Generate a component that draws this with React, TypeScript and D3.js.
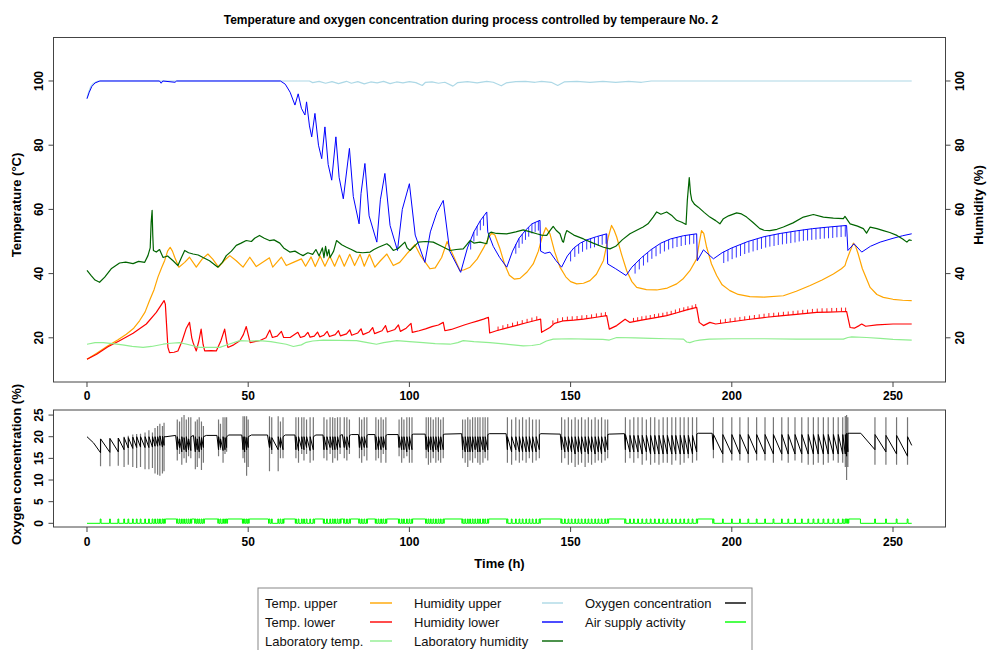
import React from "react";
import * as d3 from "d3";

type P = [number, number];

const TIME_TICKS = [0, 50, 100, 150, 200, 250];
const TEMP_TICKS = [20, 40, 60, 80, 100];
const HUM_TICKS = [20, 40, 60, 80, 100];
const O2_TICKS = [0, 5, 10, 15, 20, 25];

const TITLE = "Temperature and oxygen concentration during process controlled by temperaure No. 2";

// Temp. upper (°C)
const TEMP_UPPER: P[] = [
  [0,13.3],[3,15.2],[6.5,17.5],[9.5,19.3],[12.2,21.1],[14.5,23],[16.3,25.3],[18,28],[19.4,31.6],[20.8,35],[22,38.9],[23.2,42],[24.1,44.1],[25,47],[25.8,48.2],[26.5,47],[27.2,45.1],[28.5,42],[30.3,43.5],[31.8,45.1],[33.9,42],[35.7,44.5],[37.5,46.1],[39,44.5],[40.8,42],[42.5,44],[44.3,45.6],[46.3,44],[48.4,42],[50.5,45.1],[52.5,42.2],[54.5,43.5],[56.6,44.9],[57.6,42],[60.3,45.1],[61.8,42.5],[64,43.5],[66.5,44.6],[67.8,42.3],[69.5,45.2],[70.8,42.2],[72.3,45.5],[73.8,42.3],[75.3,45.5],[76.8,42.3],[78.3,45.8],[79.8,42.3],[81.5,46],[83,42.5],[84.7,46],[86,42.3],[87.6,46],[89.3,42],[91,44],[93,46.1],[95,42.5],[97,43.5],[99.5,46.5],[101.7,49],[103.5,45.5],[106.4,41.5],[108,41.8],[110,45],[111.7,50],[113,47],[115.7,40.9],[117,41.2],[118.8,42],[121,44.5],[123,48],[124.5,51],[125.5,52.6],[126.5,52],[128,48],[129.5,43],[131,39.5],[132.5,38.3],[134.3,38.5],[136.5,40.5],[138.4,43],[140,47],[141.2,51.5],[142.3,54.3],[143.6,52.4],[145,47],[146.7,42],[148.5,39],[150,37.5],[151.9,36.8],[154,37],[156,37.8],[158,39.8],[160.2,44.1],[161.7,51.4],[162.7,55],[163.5,53.5],[164.3,51.4],[165.8,46],[167.4,40.9],[169,37.5],[170.5,35.7],[173.5,35],[176.7,34.9],[180,35.5],[182.9,36.8],[185,38.5],[187,40.9],[189.1,44.6],[189.8,49],[190.6,53.4],[191.3,52.5],[192.2,48.2],[193.7,43],[195.3,39.4],[197,36.5],[199.4,34.7],[202,33.5],[205.6,32.8],[210,32.7],[216,33.1],[220,34.5],[224.3,36.3],[228,38],[231.5,39.9],[234,41.5],[235.1,42.5],[235.6,44.1],[236.5,46.5],[237.7,49.5],[238.4,48.5],[239.2,46.1],[240.5,41.5],[242.9,35.7],[245,33.5],[247,32.6],[250,32],[253,31.7],[255.8,31.6]
];

// Temp. lower (°C)
const TEMP_LOWER: P[] = [
  [0,13.3],[3,14.9],[6.5,17.2],[10.1,19.1],[14.3,21.4],[18.4,24.3],[21.5,27.9],[23.9,31.6],[24.3,30.5],[24.8,22],[25.1,17],[25.6,15.4],[27,15.5],[28.2,15.9],[29.5,19],[30.8,23],[31.8,24.8],[32.5,20],[32.9,18.5],[33.9,15.9],[34.7,19],[35.4,22.7],[36,18],[36.5,15.9],[38.5,16],[40.1,15.9],[41.5,19],[42.7,22.7],[43.3,19],[43.7,17],[45.5,17.8],[47.4,19.1],[48.5,21],[49.4,23.5],[50,21],[50.6,18.5],[52,18.8],[53.5,19.1],[55.5,20],[56.7,22.4],[57.5,20.1],[59,20.5],[60.3,22],[61,20.1],[63,20.1],[65.4,21.7],[66.2,20.1],[67.5,20.5],[68.5,21.7],[69.2,20.2],[70.5,20.5],[71.5,21.8],[72.2,20.3],[73.5,20.8],[74.5,22],[75.2,20.4],[77,21],[78,22.2],[78.6,20.6],[80.5,21.2],[81.5,22.5],[82.1,20.8],[84,21.5],[85,22.8],[85.6,21],[87.5,21.8],[88.6,23.2],[89.2,21.3],[91.5,22.2],[92.6,23.8],[93.2,21.8],[95.5,22.6],[96.6,24],[97.2,22],[99,23],[100.5,24.5],[100.9,21.7],[103,22.2],[105,22.8],[107,23.5],[109,24],[110.5,24.8],[111,22.2],[113,22.6],[115,23.3],[117,24],[119,24.6],[121,25.2],[123,25.8],[124.5,26.4],[124.9,21.5],[127,22.2],[130,23],[133,23.8],[136,24.6],[139,25.4],[140.7,25.8],[141,21.7],[143.6,23.2],[145,24.5],[147.8,25.3],[151,25.5],[154,25.8],[158,26.4],[161.2,26.9],[162,22.7],[164.3,23.8],[166.9,25.8],[168.4,24.8],[172,25.5],[176,26.2],[179.8,26.9],[183,27.8],[186,28.7],[189.1,29.5],[189.9,24.8],[191.2,23.8],[193.2,24.8],[195,24.3],[200,25],[205,25.7],[210.8,26.4],[215,26.8],[220,27.3],[226.3,27.9],[230,28],[235.6,28.2],[236.7,23.2],[238,23],[239.5,23.8],[240.3,24.3],[241.5,23.6],[245,24],[250,24.3],[255.8,24.3]
];

// small saw teeth on Temp. lower: [t, base, top]
const TEMP_LOWER_TEETH: [number, number, number][] = [
  [127.5,22.3,23.5],[129,22.7,23.9],[130.5,23.1,24.3],[132,23.5,24.7],[133.5,23.9,25.1],[135,24.3,25.5],[136.5,24.7,25.9],[138,25.1,26.3],[139.5,25.5,26.7],
  [144.5,24.2,25.4],[146,24.9,26.1],[147.5,25.2,26.4],[149,25.4,26.6],[150.5,25.5,26.7],[152,25.6,26.8],[153.5,25.8,27],[155,25.9,27.1],[156.5,26.1,27.3],[158,26.4,27.6],[159.5,26.6,27.8],[160.8,26.8,28],
  [169.5,25,26.2],[170.8,25.2,26.4],[172.1,25.5,26.7],[173.4,25.7,26.9],[174.7,25.9,27.1],[176,26.2,27.4],[177.3,26.4,27.6],[178.6,26.6,27.8],[179.9,26.9,28.1],[181.2,27.2,28.4],[182.5,27.6,28.8],[183.8,28,29.2],[185.1,28.3,29.5],[186.4,28.6,29.8],[187.7,28.9,30.1],[188.8,29.3,30.5],
  [196.5,24.5,25.7],[198,24.7,25.9],[199.5,24.9,26.1],[201,25.1,26.3],[202.5,25.3,26.5],[204,25.5,26.7],[205.5,25.7,26.9],[207,25.9,27.1],[208.5,26.1,27.3],[210,26.3,27.5],[211.5,26.5,27.7],[213,26.6,27.8],[214.5,26.7,27.9],[216,26.9,28.1],[217.5,27,28.2],[219,27.2,28.4],[220.5,27.3,28.5],[222,27.5,28.7],[223.5,27.6,28.8],[225,27.8,29],[226.5,27.9,29.1],[228,28,29.2],[229.5,28,29.2],[231,28.1,29.3],[232.5,28.1,29.3],[234,28.2,29.4],[235.3,28.2,29.4]
];

// Laboratory temp. (°C)
const LAB_TEMP: P[] = [
  [0,18],[2.5,18.5],[5,18.5],[8,18.2],[11,17.8],[14,17.3],[17.4,17],[20,17.3],[23.6,18],[26,18.3],[28.7,18.5],[31,18],[34.9,17],[38,17],[41.2,17],[44,18],[47.4,19.1],[50,19],[53.5,19.1],[57,18.8],[61.8,18],[64,17.3],[66.5,17.8],[68,18.6],[70,19],[73.3,19.3],[78,19.2],[83.6,19.1],[87,18.5],[89.8,18],[92,18.5],[96.1,19.1],[100,18.8],[104.3,18.5],[108,18.2],[112.6,18],[115,18.5],[116.7,19.1],[120,18.8],[125,18.5],[130,18],[135.3,17.5],[138,17.6],[140.5,18],[142.5,19],[144.6,19.6],[150,19.7],[155,19.6],[160,19.5],[162,19.3],[164.3,20.1],[170,20],[175,19.8],[180,19.7],[185,19.6],[186,18.7],[187,18.5],[188.5,19],[190,19.3],[193,19.6],[200,19.7],[210,19.7],[220,19.6],[230,19.6],[234.6,19.6],[236,20.1],[237.2,20.3],[241.8,20.1],[246,19.8],[250,19.5],[255.8,19.3]
];

// Humidity upper (%)
const HUM_UPPER: P[] = [
  [0,94.5],[0.5,96.5],[1.2,98.3],[2,99.3],[3.5,100],[69,100],[70,99.5],[72,99.9],[74,99.3],[76,99.8],[78,99.2],[80.5,99.9],[82,99.3],[84,99.8],[86,99.1],[88,99.7],[90,99.4],[92,99.9],[94,99.2],[96,99.7],[98,99.4],[100,99.8],[102,99.5],[104,98.6],[105,99.6],[107,99.7],[109,99.3],[111,99.6],[113.5,98.4],[115,99.5],[118,99.8],[121,99.4],[124,99.9],[126,99.6],[128.5,98.5],[130,99.4],[133,99.8],[136,99.9],[139,99.6],[141,99.9],[144,99.6],[146,98.6],[148,99.7],[152,99.9],[156,99.6],[160,99.9],[164,99.6],[168,99.9],[172,99.6],[175,100],[255.8,100]
];

// Humidity lower (%)
const HUM_LOWER: P[] = [
  [0,94.5],[0.7,96.5],[1.5,98.3],[2.5,99.4],[4,100],[22.5,100],[23,99.3],[23.5,100],[27.3,99.6],[27.8,100],[60,100],[61.5,99],[63,96.5],[64.5,92.5],[65.5,96],
  [66.5,91.5],[67.6,89.4],[68.1,93.5],[69,86],[69.7,82.6],[70.7,89.9],[71.8,80],[72.8,75.8],[73.8,85.7],[74.8,74],[75.9,69.1],[77.2,82.6],[78.2,70],[79.5,63.3],[81.4,79],[82.6,64],[84.4,55.5],[85,65],[86.2,74.3],[87.5,58],[89.9,49.8],[91,63],[92.4,71.2],[94,55],[96.3,47.2],[97.8,60],[100,68],[101.8,52],[104.8,43.5],[106.5,53],[108.5,59],[110.5,62.8],[112.5,47],[115.9,40.4],[118,48],[120,53],[122,56.5],[124,59.2],[124.3,53],[126,48.5],[128,45],[130.2,42],[132,47],[134,51],[136,53.5],[138,55.5],[140.5,56.6],[140.7,47],[142,46.3],[143.6,46.7],[145.5,44],[147.2,42],[149,45.5],[151,48],[153,49.5],[155,50.5],[158,51.5],[161.2,52.4],[161.5,43],[164,41.5],[167.2,39.4],[169,42],[172,45],[175,47.5],[178,49.5],[181,50.8],[185,51.8],[189.1,52.4],[189.3,44],[191.2,47.4],[194.3,44.6],[197,46.5],[200,48],[205,50],[210,51.5],[215,52.5],[220,53.3],[225,54],[230,54.5],[235.6,55],[236,47.2],[237.9,49.3],[240.3,46.7],[243,48.5],[246,49.8],[250,51],[253,51.8],[255.8,52.4]
];

// comb teeth on Humidity lower: [t, top, bottom]
const HUM_LOWER_TEETH: [number, number, number][] = [
  [119,50.5,47.5],[120,53,50],[121,54.8,51.8],[122,56.5,53.5],[123,57.9,54.9],
  [133,49.2,46.2],[134,51,48],[135,52.3,49.3],[136,53.5,50.5],[137,54.5,51.5],[138,55.5,52.5],[139,56,53],[140,56.4,53.4],
  [150,46.8,43.8],[151.3,48.2,45.2],[152.5,49.2,46.2],[153.7,49.8,46.8],[155,50.5,47.5],[156.2,50.9,47.9],[157.4,51.2,48.2],[158.6,51.6,48.6],[159.8,52,49],[161,52.3,49.3],
  [170,43,40],[171.3,44.3,41.3],[172.6,45.5,42.5],[173.9,46.5,43.5],[175.2,47.6,44.6],[176.5,48.4,45.4],[177.8,49.2,46.2],[179.1,49.9,46.9],[180.4,50.5,47.5],[181.7,50.9,47.9],[183,51.3,48.3],[184.3,51.6,48.6],[185.6,51.9,48.9],[186.9,52.1,49.1],[188.2,52.3,49.3],
  [197.5,46.8,43.3],[198.8,47.3,43.8],[200.1,48,44.5],[201.4,48.5,45],[202.7,49,45.5],[204,49.6,46.1],[205.3,50,46.5],[206.6,50.4,46.9],[207.9,50.8,47.3],[209.2,51.2,47.7],[210.5,51.6,48.1],[211.8,51.9,48.4],[213.1,52.1,48.6],[214.4,52.4,48.9],[215.7,52.6,49.1],[217,52.8,49.3],[218.3,53,49.5],[219.6,53.2,49.7],[220.9,53.5,50],[222.2,53.7,50.2],[223.5,53.8,50.3],[224.8,54,50.5],[226.1,54.1,50.6],[227.4,54.3,50.8],[228.7,54.4,50.9],[230,54.5,51],[231.3,54.6,51.1],[232.6,54.8,51.3],[233.9,54.9,51.4],[235.2,55,51.5]
];

// Laboratory humidity (%)
const LAB_HUM: P[] = [
  [0,41],[1.3,39.4],[2.5,38],[3.9,37.3],[5.5,38.9],[7.5,41.5],[10.1,43.3],[12,43.6],[14.3,43.1],[16,43.8],[17.9,43.5],[18.9,45.6],[19.6,48],[19.9,56],[20.2,59.7],[20.4,52],[20.6,47.2],[21.5,46.7],[22.5,47.5],[23.6,45],[25,45.5],[26.7,44],[28.2,42.5],[29.3,45],[30.3,47.2],[31.5,46.5],[32.9,46.1],[34.5,45.8],[36,45],[38,44],[40.6,42],[42,43.5],[43.2,45.6],[44.8,47],[46.3,48.8],[47.8,49.5],[49.4,50.3],[51,50],[52,51],[53.5,51.9],[55,51],[56.6,50.3],[58,50.5],[59.8,49.5],[61,48],[62.9,46.7],[64.5,47],[66,46.1],[67,45.6],[68.5,46.5],[70,46],[71,47.5],[72,45.5],[73,48],[73.5,45],[74,48.5],[74.5,45.5],[75,47.5],[75.4,45],[76.5,47],[77.4,50.3],[79,49],[80.5,48.2],[82,47.5],[83.6,46.7],[85.5,46.5],[87.8,46.7],[89,47.5],[90.4,48.2],[93,49.3],[94,48.5],[95,47.2],[96.5,47.8],[98.6,49.8],[99.3,48],[100.2,47.2],[101.5,48.5],[102.8,49.8],[105,50],[107.4,49.8],[110,48.5],[112.6,47.2],[114.5,47.5],[116.7,47.7],[117.8,49],[118.8,50.3],[120,49.5],[121.9,49.8],[124,49.3],[124.7,52.5],[125.3,52.9],[127,52.5],[130.2,52.4],[133,53],[135.3,53.6],[137.5,53],[139.5,52.4],[141,52],[142.6,51.9],[143.6,53.4],[144.6,54.7],[145.5,53.5],[146.7,52.4],[147.5,50],[147.8,49.8],[148.3,52],[148.8,53.4],[151,52],[154,50.8],[157,49.5],[160.2,48.2],[162.2,47.7],[164,48.5],[166,50.5],[168.4,52.4],[170.5,53.5],[172.5,54.5],[174,55.5],[175.6,57.6],[176.7,59.2],[178,58.5],[179.8,59.2],[181.5,58],[182.9,56.6],[184.5,56],[185.8,55.3],[186.2,62.8],[186.8,69.9],[187.2,65],[187.6,62.8],[188.5,61.5],[189.6,60.7],[191.5,59],[193.2,57.6],[195,56.5],[196.3,55.5],[197.4,57.1],[199,58],[201.5,58.9],[203,58.6],[204.6,57.6],[206.5,56],[208.7,54],[210,53.5],[211.8,53.4],[214,53.8],[216,54.5],[219,55.8],[222.2,57.6],[225.3,58.4],[228.4,57.6],[231.5,57.3],[234.6,57.1],[235.1,57.8],[236.7,55.5],[239,54.8],[240.8,54],[241.8,52.6],[242.9,54.5],[245,54],[247,53.4],[249,52.8],[251.2,51.9],[253,50.8],[254.3,49.8],[255,50.5],[255.8,50.3]
];

// Oxygen concentration: smooth trace points (%)
const O2_BASE: P[] = [
  [0,20],[2,18.6],[24.5,20],[27.5,20.3],[33,20.3],[37,20.3],[40.3,20.3],[44,20.4],[48,20.4],[51,20.4],[56,20.4],[61.5,20.4],[64.5,20.4],[71,20.4],[73.2,20.4],[79.2,20.5],[82,20.5],[84.2,20.5],[87.2,20.5],[89.3,20.5],[93.2,20.5],[96.5,20.5],[101.3,20.6],[104.9,20.6],[111,20.6],[116.2,20.7],[124.8,20.7],[130,20.7],[140.8,20.7],[146.8,20.6],[162,20.6],[166.7,20.7],[189.6,20.8],[193.9,20.8],[236.4,20.8],[240,20.8],[255.8,18]
];

// Oxygen regulation events: [t, low, high, before, after]
const O2_SPIKES: number[][] = [
  [4.2,13.2,19.5,16.3,19.5],[7.1,13.2,19.6,16.4,19.6],[9.7,13.3,19.7,16.5,19.7],[11.5,13,20,17,19.8],[12.8,13.5,20.2,17.4,19.8],[14.2,13,20.5,17.3,19.9],[15.4,12.8,20.6,17.5,20],[16.6,13,20.7,17.6,20],[18,12.5,21,17.5,20],[19.2,12.5,21.5,17.5,20],[20.3,12.8,21,17.6,20],[21.1,11.5,22,17.8,20],[21.9,11.2,22.5,17.8,20],[22.6,11,23,18,20.2],[23.4,11.5,22.5,17.6,20.1],[23.9,12,23.2,18,20],
  [28.0,14.5,24,17,20],[28.7,16,23.5,17.5,19.5],[29.4,13.5,24.5,16.5,20],[30.1,15,25,17,19.8],[30.8,14,24,16.5,20],[31.5,15.5,24.5,17,19.5],[32.2,15,24.5,16.8,20],
  [33.6,12.5,23.5,16.5,20],[34.2,13,24,17,19.5],[34.8,15,24.5,16.5,20],[35.5,12.3,23.5,17,19.8],[36.1,14,22.5,17.5,20],
  [40.8,15.5,24,17,20],[41.4,17,23,17.5,19.5],[42.2,14,24.5,16.8,20],[42.8,16,24.5,17,19.8],[43.3,16.5,24.5,17.5,20],
  [48.4,15,24.7,17,20],[48.9,14,24.7,16.5,20],[49.5,11,24.7,17,19.8],[50.0,13,24,17.5,20],
  [56.6,12,24.7,17.5,20],[57.3,16,24.5,17,19.8],[59.3,12,24.7,17,20],[60.0,15,23.5,17.5,19.8],[60.8,15,24.5,17,20],
  [64.8,15,24.5,17,20],[65.6,14,24.5,16.8,20],[66.6,16,24.5,17.2,20],[67.3,14.5,24.5,17,20],[68.1,16,24,17.5,20],[69.2,14,24.5,16.8,20],[70.2,14.5,24.5,17,20],
  [73.5,15,24.5,17,20],[74.4,14.5,24,17,20],[75.4,16,24.5,17.5,20],[76.2,14,24.5,17,20],[76.9,15,24.3,17,20],[77.7,14.5,24.5,17,20],[78.5,16,24.5,17.5,20.3],
  [79.8,15,24.5,17.5,20],[80.6,14.5,24.5,17,20],[81.4,16,24,17.5,20.3],
  [84.5,15,24.5,17.5,20],[85.2,14,24,17,20],[86.0,15.5,24.5,17.5,20],[86.8,14.5,24.5,17.5,20.3],
  [89.6,14.5,24.5,17,20],[90.4,15,24,17,20],[91.2,14,24.5,17,20],[91.9,16,24,17.5,20],[92.7,14,24.5,17,20.3],
  [96.8,15.5,24,17.5,20],[97.6,14,24.5,17,20],[98.3,15,24,17,20],[99.2,15.5,24.5,16.5,20],[100,14,24.5,17,20],[100.8,14,24.5,17,20.5],
  [105.2,15,24.5,17,20],[105.9,13.5,24.5,16.5,20],[106.6,14,24.5,17,20],[107.4,15,24,16.5,20],[108.2,14,24.5,17,20],[109,14.5,24.5,16.5,20],[109.7,14,24,17,20],[110.5,15,24.5,17,20.5],
  [116.5,15,24,17,20],[117.3,14,24,16.5,20],[118.1,13,24.5,16.5,20],[118.8,14.5,24,16.5,20],[119.6,14,24.5,16.5,20],[120.4,15,24.5,17,20],[121.2,14,24.5,16.5,20],[121.9,13.5,24.5,16.5,20],[122.8,14,24.5,17,20],[123.5,15,24.5,16.5,20],[124.3,14.5,24.5,17,20.5],
  [130.4,14,24.5,17,20],[131.7,13.5,24,16.5,20],[133.0,14.5,24.5,17,20],[134.1,14,24,16.5,20],[135.1,14.5,24.5,16.5,20],[136.2,14,24,16.5,20],[137.2,15,24.5,16.5,20],[138.2,14,24,16.5,20],[139.3,14.5,24,16.5,20],[140.3,15,24,17,20.5],
  [147.2,14,24.5,17,20],[148.2,15,24,16.5,20],[149.3,13.5,24.5,16.5,20],[150.3,14,24,16.5,20],[151.4,13,24.5,16,20],[152.4,13.5,24,16.5,20],[153.4,14,24.5,16,20],[154.5,13,24,16.5,20],[155.5,14,24.5,16,20],[156.5,13.5,24,16.5,20],[157.6,14,24.5,16,20],[158.6,14.5,24,16.5,20],[159.6,14,24.5,16,20],[160.7,14.5,24,16.5,20],[161.5,15,24,17,20.5],
  [167.0,14,24.5,17,20.5],[168.4,15,24,16.5,20.3],[169.6,14,24.5,16.5,20.3],[170.9,15,24.5,16.5,20.3],[172.2,13.5,24.5,16,20.3],[173.5,14.5,24,16.5,20.3],[174.8,13.5,24.5,16,20.3],[176.1,14,24.5,16,20.3],[177.4,13.5,24,16,20.3],[178.7,14,24.5,16,20.3],[180.0,14,24.5,16,20.3],[181.4,13.5,24.5,16,20.3],[182.6,14.5,24.5,16,20.3],[184.0,13.5,24.5,16,20.3],[185.2,14,24.5,16,20.3],[186.5,15,24.5,16,20.3],[187.8,14,24.5,16,20.3],[189.1,14.5,24.5,16.5,20.6],
  [194.3,15,24.5,17,20.5],[197.2,14,24.5,16,20.5],[200.0,14.5,24.5,16,20.5],[202.5,14.5,24.5,16,20.5],[205.1,14,24.5,16,20.5],[207.7,14.5,24.5,16,20.5],[210.3,14.5,24.5,16,20.5],[212.9,14,24.5,16,20.5],[215.5,14.5,24.5,16,20.5],[217.5,14,24.5,16,20.5],[219.6,14.5,24.5,16,20.5],[221.7,14,24.5,16,20.5],[223.7,13.5,24.5,16,20.5],[225.3,13.5,24.5,16,20.5],[226.8,14,24.5,16,20.5],[228.4,13.5,24.5,16,20.5],[229.9,14,24.5,16,20.5],[231.5,14.5,24.5,16,20.5],[233.0,14,24.5,16,20.5],[234.4,14,24.5,16,20.5],[235.2,13,24.8,16,20.5],[235.6,10,25,15.5,20.8],[236.0,13,24.5,16.5,20.8],
  [244.4,13.5,24.5,17,20.5],[247.8,13.5,24.5,16.5,20.3],[251.1,13.5,24.5,16,20.3],[254.5,13.5,24.5,15.5,20]
];

// Air supply activity: intervals with continuous supply (value 1); short pulses at O2 events
const AIR_ON: P[] = [
  [24.3,27.8],[32.5,33.4],[36.4,40.6],[43.6,48.2],[50.3,56.3],[61.1,64.6],[70.6,73.3],[78.8,79.6],[81.7,84.3],[87,89.4],[93,96.6],[101,105],[110.8,116.3],[124.6,130.2],[140.6,147],[161.8,166.8],[189.4,194.1],[236.3,239.9]
];
const AIR_LEVEL = 1;
const AIR_END = 255.8;

const LEGEND_ITEMS = [
  { label: "Temp. upper", color: "#FFA500", col: 0, row: 0 },
  { label: "Temp. lower", color: "#FF0000", col: 0, row: 1 },
  { label: "Laboratory temp.", color: "#90EE90", col: 0, row: 2 },
  { label: "Humidity upper", color: "#ADD8E6", col: 1, row: 0 },
  { label: "Humidity lower", color: "#0000FF", col: 1, row: 1 },
  { label: "Laboratory humidity", color: "#006400", col: 1, row: 2 },
  { label: "Oxygen concentration", color: "#000000", col: 2, row: 0 },
  { label: "Air supply activity", color: "#00FF00", col: 2, row: 1 },
];

const FONT = "'Liberation Sans', Arial, Helvetica, sans-serif";

export default function App() {
  const W = 987, H = 650;
  const L = 53.5, R = 945.5;
  const T1 = 37.5, B1 = 382;
  const T2 = 410, B2 = 527;

  const x = d3.scaleLinear().domain([-10.39, 266.28]).range([L, R]);
  const yT = d3.scaleLinear().domain([6.23, 113.55]).range([B1, T1]);
  const yH = d3.scaleLinear().domain([6.23, 113.55]).range([B1, T1]);
  const yO = d3.scaleLinear().domain([-0.85, 26.17]).range([B2, T2]);

  const mk = (ys: d3.ScaleLinear<number, number>) =>
    d3.line<P>().x((d) => x(d[0])).y((d) => ys(d[1]));

  const combPath = (rows: [number, number, number][], ys: d3.ScaleLinear<number, number>) =>
    rows.map((r) => `M${x(r[0])},${ys(r[1])}L${x(r[0])},${ys(r[2])}`).join("");

  // oxygen trace
  const o2pts: P[] = [...O2_BASE];
  O2_SPIKES.forEach((s) => {
    o2pts.push([s[0], s[3]]);
    o2pts.push([s[0] + 0.02, s[4]]);
  });
  o2pts.sort((a, b) => a[0] - b[0]);
  const o2Spikes = O2_SPIKES.map((s) => `M${x(s[0])},${yO(s[1])}L${x(s[0])},${yO(s[2])}`).join("");

  // air supply
  const segs: P[] = [
    ...AIR_ON,
    ...O2_SPIKES.map((s) => [s[0] - 0.1, s[0] + 0.15] as P),
  ].sort((a, b) => a[0] - b[0]);
  const airPts: P[] = [[0, 0]];
  segs.forEach(([s, e]) => {
    airPts.push([s, 0], [s, AIR_LEVEL], [e, AIR_LEVEL], [e, 0]);
  });
  airPts.push([AIR_END, 0]);

  const tickText = { fontFamily: FONT, fontSize: 12, fontWeight: "bold" as const, fill: "#000" };
  const axisColor = "#444";

  const legX = [265, 414, 585];
  const legLine = [[370, 392], [542, 563], [725, 746]];
  const legY = [603, 622, 641];

  return (
    <svg width={W} height={H} style={{ position: "absolute", left: 0, top: 0, background: "#fff" }}>
      <defs>
        <clipPath id="c1"><rect x={L} y={T1} width={R - L} height={B1 - T1} /></clipPath>
        <clipPath id="c2"><rect x={L} y={T2} width={R - L} height={B2 - T2} /></clipPath>
      </defs>
      <rect x={0} y={0} width={W} height={H} fill="#fff" />
      <text x={471} y={24} textAnchor="middle" fontFamily={FONT} fontSize={12} fontWeight="bold">{TITLE}</text>

      {/* top panel lines */}
      <g clipPath="url(#c1)" fill="none" strokeLinejoin="round">
        <path d={mk(yT)(TEMP_UPPER) || ""} stroke="#FFA500" strokeWidth={1.2} />
        <path d={mk(yT)(TEMP_LOWER) || ""} stroke="#FF0000" strokeWidth={1.2} />
        <path d={combPath(TEMP_LOWER_TEETH, yT)} stroke="#FF0000" strokeWidth={0.9} />
        <path d={mk(yT)(LAB_TEMP) || ""} stroke="#90EE90" strokeWidth={1.2} />
        <path d={mk(yH)(HUM_UPPER) || ""} stroke="#ADD8E6" strokeWidth={1.2} />
        <path d={mk(yH)(HUM_LOWER) || ""} stroke="#0000FF" strokeWidth={1} />
        <path d={combPath(HUM_LOWER_TEETH, yH)} stroke="#0000FF" strokeWidth={0.8} />
        <path d={mk(yH)(LAB_HUM) || ""} stroke="#006400" strokeWidth={1.2} />
      </g>
      <rect x={L} y={T1} width={R - L} height={B1 - T1} fill="none" stroke={axisColor} strokeWidth={1} />

      {/* top x axis */}
      {TIME_TICKS.map((t) => (
        <g key={"tx" + t}>
          <line x1={x(t)} x2={x(t)} y1={B1} y2={B1 + 5} stroke={axisColor} />
          <text x={x(t)} y={399.5} textAnchor="middle" {...tickText}>{t}</text>
        </g>
      ))}
      {/* left axis */}
      {TEMP_TICKS.map((v) => (
        <g key={"ty" + v}>
          <line x1={L - 5} x2={L} y1={yT(v)} y2={yT(v)} stroke={axisColor} />
          <text transform={`translate(39,${yT(v)}) rotate(-90)`} textAnchor="middle" dy="0.35em" {...tickText}>{v}</text>
        </g>
      ))}
      {/* right axis */}
      {HUM_TICKS.map((v) => (
        <g key={"hy" + v}>
          <line x1={R} x2={R + 5} y1={yH(v)} y2={yH(v)} stroke={axisColor} />
          <text transform={`translate(960,${yH(v)}) rotate(-90)`} textAnchor="middle" dy="0.35em" {...tickText}>{v}</text>
        </g>
      ))}
      <text transform={`translate(16,205) rotate(-90)`} textAnchor="middle" dy="0.35em" fontFamily={FONT} fontSize={13} fontWeight="bold">Temperature (°C)</text>
      <text transform={`translate(978,205) rotate(-90)`} textAnchor="middle" dy="0.35em" fontFamily={FONT} fontSize={13} fontWeight="bold">Humidity (%)</text>

      {/* bottom panel */}
      <g clipPath="url(#c2)" fill="none">
        <path d={o2Spikes} stroke="#777" strokeWidth={1.2} />
        <path d={mk(yO)(o2pts) || ""} stroke="#000" strokeWidth={1} strokeLinejoin="round" />
        <path d={mk(yO)(airPts) || ""} stroke="#00FF00" strokeWidth={1} />
      </g>
      <rect x={L} y={T2} width={R - L} height={B2 - T2} fill="none" stroke={axisColor} strokeWidth={1} />
      {TIME_TICKS.map((t) => (
        <g key={"bx" + t}>
          <line x1={x(t)} x2={x(t)} y1={B2} y2={B2 + 5} stroke={axisColor} />
          <text x={x(t)} y={546} textAnchor="middle" {...tickText}>{t}</text>
        </g>
      ))}
      {O2_TICKS.map((v) => (
        <g key={"oy" + v}>
          <line x1={L - 5} x2={L} y1={yO(v)} y2={yO(v)} stroke={axisColor} />
          <text transform={`translate(39,${yO(v)}) rotate(-90)`} textAnchor="middle" dy="0.35em" {...tickText}>{v}</text>
        </g>
      ))}
      <text transform={`translate(16,${(T2 + B2) / 2 - 4}) rotate(-90)`} textAnchor="middle" dy="0.35em" fontFamily={FONT} fontSize={13} fontWeight="bold">Oxygen concentration (%)</text>
      <text x={(L + R) / 2} y={567.5} textAnchor="middle" fontFamily={FONT} fontSize={13} fontWeight="bold">Time (h)</text>

      {/* legend */}
      <rect x={258} y={588} width={494} height={80} fill="#fff" stroke="#888" strokeWidth={1} />
      {LEGEND_ITEMS.map((it) => (
        <g key={it.label}>
          <text x={legX[it.col]} y={legY[it.row]} dy="0.35em" fontFamily={FONT} fontSize={13} fill="#111">{it.label}</text>
          <line x1={legLine[it.col][0]} x2={legLine[it.col][1]} y1={legY[it.row]} y2={legY[it.row]} stroke={it.color} strokeWidth={2} strokeOpacity={0.7} />
        </g>
      ))}
    </svg>
  );
}
